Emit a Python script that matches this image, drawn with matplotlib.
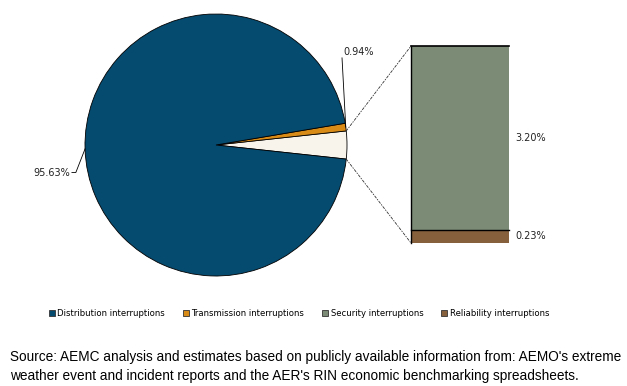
import numpy as np
import matplotlib
matplotlib.use("Agg")
import matplotlib.pyplot as plt
from matplotlib.patches import ConnectionPatch, Patch

# pie: distribution, transmission, and the "other" slice that gets exploded into the bar
pie_names = ["Distribution interruptions", "Transmission interruptions"]
pie_values = [95.63, 0.94]
bar_names = ["Security interruptions", "Reliability interruptions"]
bar_values = [3.20, 0.23]

c_dist = "#054a6f"
c_trans = "#d98b17"
c_other = "#f8f3eb"
c_sec = "#7b8b75"
c_rel = "#86603d"

other = sum(bar_values)
vals = [other, pie_values[1], pie_values[0]]
half = other / 100 * 360 / 2

fig = plt.figure(figsize=(6.27, 3.86), dpi=100)
W, H = 627, 386

# pie axes, center ~ (216,145) px, radius ~131 px
ax = fig.add_axes([85 / W, (H - 276) / H, 262 / W, 262 / H])
wedges, _ = ax.pie(vals, colors=[c_other, c_trans, c_dist], startangle=-half,
                   counterclock=True, radius=1,
                   wedgeprops=dict(edgecolor="black", linewidth=0.6))
ax.set_xlim(-1, 1)
ax.set_ylim(-1, 1)
ax.set_aspect("equal")
ax.axis("off")

lab_font = dict(fontsize=7, family="DejaVu Sans", color="#222222")

# 0.94% leader line
th = np.deg2rad(wedges[1].theta1 + (wedges[1].theta2 - wedges[1].theta1) / 2)
ax.plot([np.cos(th), 0.962], [np.sin(th), 0.665], color="black", lw=0.6, clip_on=False)
ax.text(0.97, 0.67, "%.2f%%" % pie_values[1], ha="left", va="bottom", **lab_font)

# 95.63% leader line
th = np.deg2rad(wedges[2].theta1 + (wedges[2].theta2 - wedges[2].theta1) / 2)
ax.plot([np.cos(th), -1.07, -1.1], [np.sin(th), -0.21, -0.21], color="black", lw=0.6,
        clip_on=False)
ax.text(-1.11, -0.21, "%.2f%%" % pie_values[0], ha="right", va="center", **lab_font)

# stacked bar
bx = fig.add_axes([411 / W, (H - 243) / H, 98 / W, 197 / H])
bottom = 0
for v, c in zip(bar_values[::-1], [c_rel, c_sec]):
    bx.bar(0, v, bottom=bottom, width=1, color=c, edgecolor="none")
    bottom += v
bx.set_xlim(-0.5, 0.5)
bx.set_ylim(0, other)
bx.axis("off")
# black top edges and left edge
bx.plot([-0.5, 0.5], [other, other], color="black", lw=1.2, clip_on=False)
bx.plot([-0.5, 0.5], [bar_values[1], bar_values[1]], color="black", lw=1.0, clip_on=False)
bx.plot([-0.5, -0.5], [0, other], color="black", lw=1.0, clip_on=False)

bx.text(0.56, bar_values[1] + bar_values[0] / 2, "%.2f%%" % bar_values[0],
        ha="left", va="center", transform=bx.transData, clip_on=False, **lab_font)
bx.text(0.56, bar_values[1] / 2, "%.2f%%" % bar_values[1],
        ha="left", va="center", transform=bx.transData, clip_on=False, **lab_font)

# dashed connectors
for ang, yb in [(half, other), (-half, 0)]:
    t = np.deg2rad(ang)
    con = ConnectionPatch(xyA=(np.cos(t), np.sin(t)), coordsA=ax.transData,
                          xyB=(-0.5, yb), coordsB=bx.transData,
                          color="#333333", lw=0.6, linestyle=(0, (3, 2, 1, 2)))
    fig.add_artist(con)

# legend
handles = [Patch(facecolor=c, edgecolor="#333333", lw=0.6)
           for c in [c_dist, c_trans, c_sec, c_rel]]
fig.legend(handles, pie_names + bar_names, loc="center", ncol=4,
           bbox_to_anchor=(299 / W, 1 - 313 / H), frameon=False,
           prop=dict(family="DejaVu Sans", size=6.1), handlelength=0.7,
           handleheight=0.7, handletextpad=0.3, columnspacing=2.1)

fig.text(10 / W, 1 - 357 / H,
         "Source: AEMC analysis and estimates based on publicly available information from: AEMO's extreme",
         ha="left", va="center", family="Liberation Sans", fontsize=9.8)
fig.text(10 / W, 1 - 376 / H,
         "weather event and incident reports and the AER's RIN economic benchmarking spreadsheets.",
         ha="left", va="center", family="Liberation Sans", fontsize=9.8)

fig.savefig("out.png", dpi=100)
